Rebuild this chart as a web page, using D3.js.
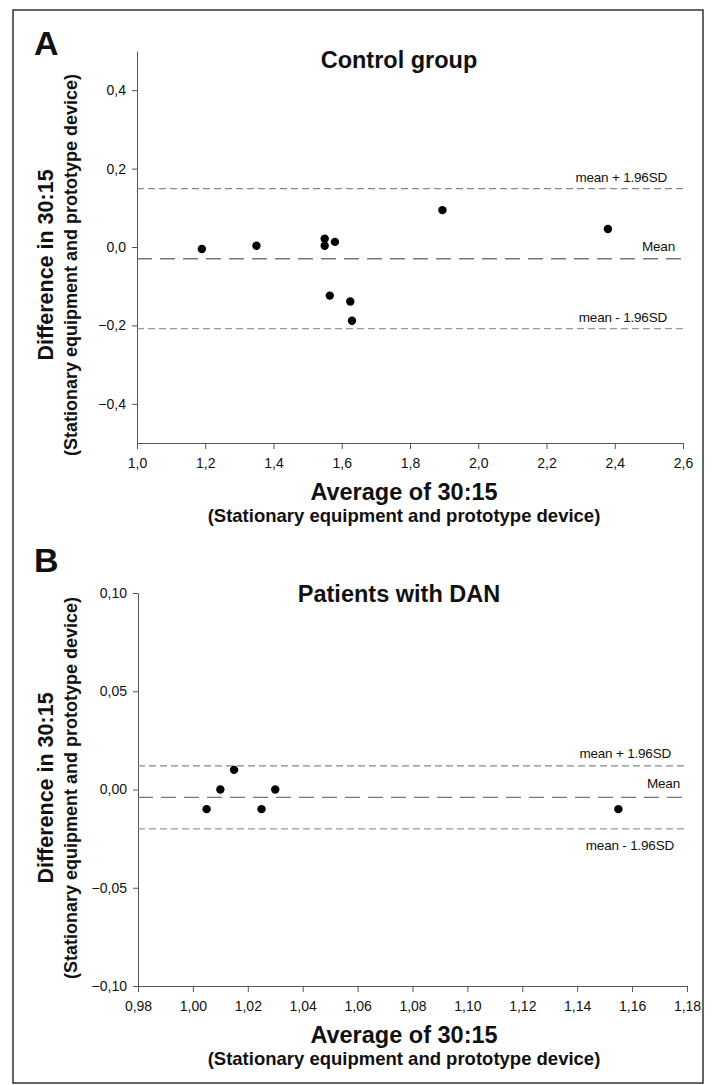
<!DOCTYPE html>
<html>
<head>
<meta charset="utf-8">
<script src="https://cdn.jsdelivr.net/npm/d3@7"></script>
<style>
  body { margin: 0; background: #fff; }
  text { font-family: "Liberation Sans", Arial, sans-serif; fill: #111; }
</style>
</head>
<body>
<div id="vis"></div>
<script>
// Bland-Altman plots, 30:15 ratio

// panel A - control group
const ctrlAvg  = [1.19, 1.35, 1.55, 1.55, 1.58, 1.565, 1.625, 1.63, 1.895, 2.38];
const ctrlDiff = [-0.005, 0.003, 0.021, 0.003, 0.013, -0.124, -0.139, -0.188, 0.094, 0.046];
const ctrlLimits = [0.149, -0.030, -0.208];   // mean+1.96SD, mean, mean-1.96SD
const ctrlXTicks = [1.0, 1.2, 1.4, 1.6, 1.8, 2.0, 2.2, 2.4, 2.6];
const ctrlYTicks = [-0.4, -0.2, 0.0, 0.2, 0.4];

// panel B - patients with DAN
const danAvg  = [1.005, 1.01, 1.015, 1.025, 1.03, 1.155];
const danDiff = [-0.010, 0.000, 0.010, -0.010, 0.000, -0.010];
const danLimits = [0.012, -0.004, -0.020];
const danXTicks = [0.98, 1.00, 1.02, 1.04, 1.06, 1.08, 1.10, 1.12, 1.14, 1.16, 1.18];
const danYTicks = [-0.10, -0.05, 0.00, 0.05, 0.10];

const limitLabels = ["mean + 1.96SD", "Mean", "mean - 1.96SD"];

const FRAME_WIDTH = 712;
const FRAME_HEIGHT = 1085;

const comma = d3.formatLocale({decimal: ",", thousands: ".", grouping: [3], currency: ["", ""]});

const svg = d3.select("#vis")
  .append("svg")
    .attr("width", FRAME_WIDTH)
    .attr("height", FRAME_HEIGHT);

// outer border
svg.append("rect")
  .attr("x", 13).attr("y", 10)
  .attr("width", 690).attr("height", 1073)
  .attr("fill", "none")
  .attr("stroke", "#333")
  .attr("stroke-width", 1.5);

function drawPanel(p) {
  const X = d3.scaleLinear().domain(p.xDomain).range([p.left, p.right]);
  const Y = d3.scaleLinear().domain(p.yDomain).range([p.bottom, p.top]);
  const fmt = comma.format(p.fmt);

  // axes
  const yAxis = svg.append("g")
    .attr("transform", "translate(" + p.left + ",0)")
    .call(d3.axisLeft(Y).tickValues(p.yTicks).tickSize(5).tickSizeOuter(0).tickPadding(6).tickFormat(fmt));
  const xAxis = svg.append("g")
    .attr("transform", "translate(0," + p.bottom + ")")
    .call(d3.axisBottom(X).tickValues(p.xTicks).tickSize(6).tickSizeOuter(0).tickPadding(9).tickFormat(fmt));
  [xAxis, yAxis].forEach(a => {
    a.selectAll("path, line").attr("stroke", "#555");
    a.selectAll("text").attr("font-size", "14px").attr("fill", "#111")
      .attr("font-family", "'Liberation Sans', Arial, sans-serif");
  });

  // limit lines
  const dashes = ["7,4", "15,8", "7,4"];
  const colors = ["#888", "#777", "#999"];
  svg.selectAll(null)
    .data(p.limits)
    .enter()
    .append("line")
      .attr("x1", X(p.xDomain[0])).attr("x2", X(p.xDomain[1]))
      .attr("y1", d => Y(d)).attr("y2", d => Y(d))
      .attr("stroke", (d, i) => colors[i])
      .attr("stroke-width", 1.3)
      .attr("stroke-dasharray", (d, i) => dashes[i]);

  // limit labels
  svg.selectAll(null)
    .data(p.limits)
    .enter()
    .append("text")
      .attr("x", (d, i) => X(p.xDomain[1]) + p.labelDx[i])
      .attr("y", (d, i) => Y(d) + p.labelDy[i])
      .attr("text-anchor", "end")
      .attr("font-size", "13.5px")
      .attr("letter-spacing", "-0.2px")
      .text((d, i) => limitLabels[i]);

  // points
  svg.selectAll(null)
    .data(p.avg)
    .enter()
    .append("circle")
      .attr("cx", d => X(d))
      .attr("cy", (d, i) => Y(p.diff[i]))
      .attr("r", 4.2)
      .attr("fill", "#000");

  // panel letter and title
  svg.append("text")
    .attr("x", 34).attr("y", p.letterY)
    .attr("font-size", "34px").attr("font-weight", "bold")
    .text(p.letter);
  svg.append("text")
    .attr("x", 399).attr("y", p.titleY)
    .attr("text-anchor", "middle")
    .attr("font-size", "23.5px").attr("font-weight", "bold")
    .text(p.title);

  // x axis titles
  svg.append("text")
    .attr("x", 404).attr("y", p.bottom + 57)
    .attr("text-anchor", "middle")
    .attr("font-size", "23.5px").attr("font-weight", "bold")
    .text("Average of 30:15");
  svg.append("text")
    .attr("x", 404).attr("y", p.bottom + 79)
    .attr("text-anchor", "middle")
    .attr("font-size", "18.5px").attr("font-weight", "bold")
    .text("(Stationary equipment and prototype device)");

  // y axis titles
  svg.append("text")
    .attr("transform", "translate(53," + p.yTitleC + ") rotate(-90)")
    .attr("text-anchor", "middle")
    .attr("font-size", "21.5px").attr("font-weight", "bold")
    .text("Difference in 30:15");
  svg.append("text")
    .attr("transform", "translate(77," + p.yTitleC + ") rotate(-90)")
    .attr("text-anchor", "middle")
    .attr("font-size", "18px").attr("font-weight", "bold")
    .text("(Stationary equipment and prototype device)");
}

drawPanel({
  letter: "A", letterY: 55, title: "Control group", titleY: 68,
  avg: ctrlAvg, diff: ctrlDiff, limits: ctrlLimits,
  xDomain: [1.0, 2.6], yDomain: [-0.5, 0.5],
  xTicks: ctrlXTicks, yTicks: ctrlYTicks, fmt: ".1f",
  left: 137, right: 683, top: 51, bottom: 443,
  labelDx: [-16, -8, -16], labelDy: [-7, -8, -7],
  yTitleC: 265
});

drawPanel({
  letter: "B", letterY: 572, title: "Patients with DAN", titleY: 602,
  avg: danAvg, diff: danDiff, limits: danLimits,
  xDomain: [0.98, 1.18], yDomain: [-0.10, 0.10],
  xTicks: danXTicks, yTicks: danYTicks, fmt: ".2f",
  left: 138, right: 687, top: 593, bottom: 986,
  labelDx: [-16, -7, -13], labelDy: [-8, -9, 21],
  yTitleC: 788
});
</script>
</body>
</html>
